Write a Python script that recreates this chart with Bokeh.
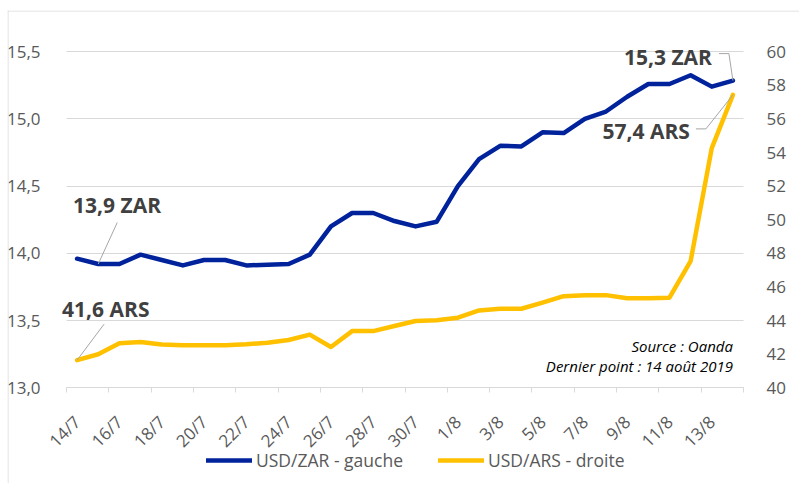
import math
from bokeh.plotting import figure
from bokeh.models import (Range1d, LinearAxis, FixedTicker, Label, Legend, LegendItem, Span)
from bokeh.embed import file_html
from bokeh.resources import INLINE

# ---------------- data ----------------
dates = ["14/7", "15/7", "16/7", "17/7", "18/7", "19/7", "20/7", "21/7", "22/7", "23/7",
         "24/7", "25/7", "26/7", "27/7", "28/7", "29/7", "30/7", "31/7", "1/8", "2/8",
         "3/8", "4/8", "5/8", "6/8", "7/8", "8/8", "9/8", "10/8", "11/8", "12/8",
         "13/8", "14/8"]
usd_zar = [13.96, 13.92, 13.92, 13.99, 13.95, 13.91, 13.95, 13.95, 13.91, 13.915,
           13.92, 13.99, 14.20, 14.30, 14.30, 14.24, 14.20, 14.235, 14.50, 14.70,
           14.80, 14.795, 14.90, 14.895, 15.00, 15.055, 15.165, 15.26, 15.26, 15.325,
           15.24, 15.285]
usd_ars = [41.64, 41.99, 42.64, 42.72, 42.57, 42.52, 42.52, 42.52, 42.58, 42.68,
           42.84, 43.16, 42.42, 43.37, 43.37, 43.67, 43.97, 44.01, 44.17, 44.60,
           44.70, 44.70, 45.06, 45.45, 45.51, 45.51, 45.33, 45.33, 45.36, 47.53,
           54.26, 57.43]
left_ticks = [13.0, 13.5, 14.0, 14.5, 15.0, 15.5]
left_tick_labels = ["13,0", "13,5", "14,0", "14,5", "15,0", "15,5"]
right_ticks = [40, 42, 44, 46, 48, 50, 52, 54, 56, 58, 60]
right_tick_labels = ["40", "42", "44", "46", "48", "50", "52", "54", "56", "58", "60"]
series_names = ["USD/ZAR - gauche", "USD/ARS - droite"]
end_labels = ["13,9 ZAR", "41,6 ARS", "15,3 ZAR", "57,4 ARS"]
notes = ["Source : Oanda", "Dernier point : 14 août 2019"]

# ---------------- layout constants (pixels) ----------------
FONT = "Open Sans"
BLUE = "#00239C"
GOLD = "#FFC000"
GRID = "#d9d9d9"
TXT = "#595959"

DATA_W = 677        # width of the category area
DATA_H = 336        # height of the value area (13,0 -> 15,5)
PAD_LEFT, PAD_RIGHT = 59, 56
PAD_TOP, PAD_BOT = 41.2, 95.8
FW = int(DATA_W + PAD_LEFT + PAD_RIGHT)
FH = int(round(DATA_H + PAD_TOP + PAD_BOT))

n = len(dates)
xs = list(range(n))
x0, x1 = -0.5, n - 0.5
xpp = (x1 - x0) / DATA_W

l0, l1 = left_ticks[0], left_ticks[-1]
r0, r1 = right_ticks[0], right_ticks[-1]
lpp = (l1 - l0) / DATA_H
rpp = (r1 - r0) / DATA_H

xr = Range1d(x0 - PAD_LEFT * xpp, x1 + PAD_RIGHT * xpp)
yr = Range1d(l0 - PAD_BOT * lpp, l1 + PAD_TOP * lpp)

p = figure(frame_width=FW, frame_height=FH,
           min_border_left=7, min_border_right=0, min_border_top=10, min_border_bottom=0,
           x_range=xr, y_range=yr, output_backend="svg", toolbar_location=None)
p.extra_y_ranges = {"ars": Range1d(r0 - PAD_BOT * rpp, r1 + PAD_TOP * rpp)}
p.outline_line_color = None
p.background_fill_color = "white"
p.border_fill_color = "white"

# chart-area border (top and left)
p.add_layout(Span(location=yr.end - 0.5 * lpp, dimension="width", line_color=GRID, line_width=1))
p.add_layout(Span(location=xr.start + 0.5 * xpp, dimension="height", line_color=GRID, line_width=1))

# horizontal gridlines limited to the category area
p.xgrid.visible = False
g = p.ygrid[0]
g.ticker = FixedTicker(ticks=left_ticks)
g.grid_line_color = GRID
g.grid_line_width = 1
if "cross_bounds" in g.properties():
    g.cross_bounds = (x0, x1)
else:
    g.visible = False
    p.segment(x0=[x0] * len(left_ticks), x1=[x1] * len(left_ticks),
              y0=left_ticks, y1=left_ticks, line_color=GRID, line_width=1)

# x axis drawn at the 13,0 level
xa = p.xaxis[0]
label_pos = xs[0:n - 1:2]
bounds = [i - 0.5 for i in range(0, n + 1, 2)]
xa.fixed_location = l0
xa.bounds = (x0, x1)
xa.ticker = FixedTicker(ticks=label_pos, minor_ticks=bounds)
xa.major_label_overrides = {i: dates[i] for i in label_pos}
xa.major_label_orientation = math.pi / 4
xa.major_tick_in = 0
xa.major_tick_out = 0
xa.minor_tick_in = 0
xa.minor_tick_out = 5
xa.minor_tick_line_color = GRID
xa.axis_line_color = GRID
xa.major_label_text_font = FONT
xa.major_label_text_font_size = "17px"
xa.major_label_text_color = TXT
xa.major_label_standoff = 26

# left axis at the left edge of the category area
ya = p.yaxis[0]
ya.fixed_location = x0
ya.ticker = FixedTicker(ticks=left_ticks)
ya.major_label_overrides = dict(zip(left_ticks, left_tick_labels))
ya.axis_line_color = None
ya.major_tick_line_color = None
ya.minor_tick_line_color = None
ya.major_label_standoff = 20
ya.major_label_text_font = FONT
ya.major_label_text_font_size = "17px"
ya.major_label_text_color = TXT

# right axis at the right edge of the category area
ra = LinearAxis(y_range_name="ars", ticker=FixedTicker(ticks=right_ticks), fixed_location=x1)
ra.major_label_overrides = dict(zip(right_ticks, right_tick_labels))
ra.axis_line_color = None
ra.major_tick_line_color = None
ra.minor_tick_line_color = None
ra.major_label_standoff = 17
ra.major_label_text_font = FONT
ra.major_label_text_font_size = "17px"
ra.major_label_text_color = TXT
p.add_layout(ra, "right")

# series
r_zar = p.line(xs, usd_zar, line_color=BLUE, line_width=4.5, line_join="round", line_cap="round")
r_ars = p.line(xs, usd_ars, y_range_name="ars", line_color=GOLD, line_width=4.5,
               line_join="round", line_cap="round")

# leader lines (offsets in pixels converted to data units)
LEAD = "#a6a6a6"

def leader(pts_px, px0, py0, per_px, rng=None):
    lx = [px0 + dx * xpp for dx, dy in pts_px]
    ly = [py0 + dy * per_px for dx, dy in pts_px]
    kw = {"y_range_name": rng} if rng else {}
    p.line(lx, ly, line_color=LEAD, line_width=1, **kw)

leader([(0, 0), (19, 41.5)], xs[1], usd_zar[1], lpp)
leader([(0, 0), (27, 36)], xs[0], usd_ars[0], rpp, "ars")
leader([(0, 0), (-4, 27), (-14, 27)], xs[-1], usd_zar[-1], lpp)
leader([(0, 0), (-27, -34), (-37, -34)], xs[-1], usd_ars[-1], rpp, "ars")

def lab(text, x, y, xo, yo, align, rng=None):
    kw = {"y_range_name": rng} if rng else {}
    p.add_layout(Label(x=x, y=y, x_offset=xo, y_offset=yo, text=text,
                       text_align=align, text_baseline="middle",
                       text_font=FONT, text_font_style="bold", text_font_size="21px",
                       text_color="#404040", **kw))

lab(end_labels[0], xs[0], usd_zar[0], -4, 54, "left")
lab(end_labels[1], xs[0], usd_ars[0], -15, 51, "left", "ars")
lab(end_labels[2], xs[-1], usd_zar[-1], -21, 24, "right")
lab(end_labels[3], xs[-1], usd_ars[-1], -43, -36, "right", "ars")

for txt, yo in zip(notes, [42, 22]):
    p.add_layout(Label(x=xs[-1], y=l0, x_offset=0, y_offset=yo, text=txt,
                       text_align="right", text_baseline="middle",
                       text_font=FONT, text_font_style="italic", text_font_size="15px",
                       text_color="#000000"))

legend = Legend(items=[LegendItem(label=series_names[0], renderers=[r_zar]),
                       LegendItem(label=series_names[1], renderers=[r_ars])],
                orientation="horizontal", location=(199, 11),
                glyph_width=46, glyph_height=20, label_height=20, label_standoff=4,
                spacing=35, padding=0, margin=0,
                border_line_alpha=0, background_fill_alpha=0,
                label_text_font=FONT, label_text_font_size="17.5px", label_text_color=TXT)
p.add_layout(legend)

open("out.html", "w").write(file_html(p, INLINE))
